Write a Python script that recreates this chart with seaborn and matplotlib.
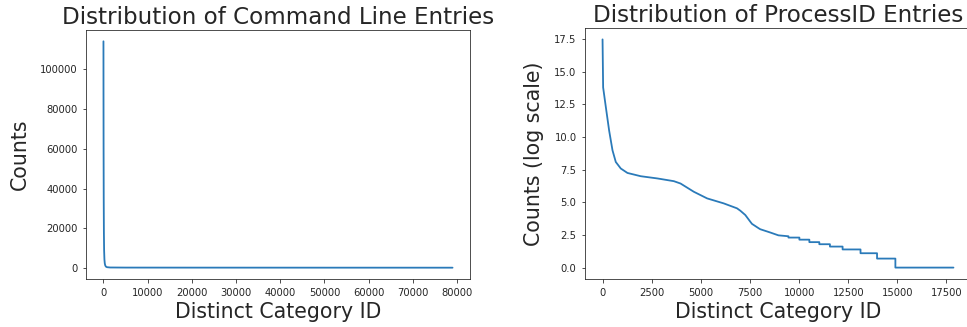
import matplotlib
matplotlib.use("Agg")
import matplotlib.pyplot as plt
import seaborn as sns
import pandas as pd

# Command line entries: counts per distinct category, sorted descending
cmd_ids = [0, 10, 30, 60, 100, 150, 220, 300, 400, 550, 800, 1500, 5000, 20000, 50000, 79000]
cmd_counts = [113800, 90000, 60000, 35000, 18000, 9000, 4500, 2500, 1500, 900, 600, 450, 400, 380, 360, 350]

# ProcessID entries: natural log of counts per distinct category, sorted descending.
# The tail holds small integer counts, so it falls in flat steps.
pid_ids = [0, 30, 167, 335, 507, 674, 928, 1267, 1941, 2788, 3629, 3969, 4643, 5322,
           6163, 6842, 7009, 7263, 7516, 7603, 7937, 8023, 8530, 8951,
           9459, 9459, 10016, 10016, 10523, 10523, 11030, 11030, 11571, 11571,
           12215, 12215, 13127, 13127, 13968, 13968, 14901, 14901, 17856]
pid_logcounts = [17.48, 13.8, 12.3, 10.5, 8.98, 8.09, 7.59, 7.25, 7.0, 6.83, 6.62, 6.44, 5.81, 5.30,
                 4.92, 4.54, 4.36, 4.03, 3.52, 3.35, 3.02, 2.94, 2.69, 2.47,
                 2.40, 2.30, 2.30, 2.14, 2.14, 1.95, 1.95, 1.79, 1.79, 1.61,
                 1.61, 1.39, 1.39, 1.10, 1.10, 0.69, 0.69, 0.0, 0.0]

cmd_df = pd.DataFrame({"id": cmd_ids, "count": cmd_counts})
pid_df = pd.DataFrame({"id": pid_ids, "logcount": pid_logcounts})

sns.set_style("ticks")
plt.rcParams["font.family"] = ["DejaVu Sans"]

W, H = 967, 327
fig = plt.figure(figsize=(W / 72, H / 72), dpi=72)
ax1 = fig.add_axes([86 / W, 1 - 279 / H, (470 - 86) / W, (279 - 30) / H])
ax2 = fig.add_axes([585 / W, 1 - 279 / H, (971 - 585) / W, (279 - 28) / H])

line_color = "#2a7ab9"

sns.lineplot(data=cmd_df, x="id", y="count", ax=ax1, color=line_color,
             linewidth=1.8, estimator=None, sort=False)
sns.lineplot(data=pid_df, x="id", y="logcount", ax=ax2, color=line_color,
             linewidth=1.8, estimator=None, sort=False)

ax1.set_title("Distribution of Command Line Entries", fontsize=23)
ax1.set_xlabel("Distinct Category ID", fontsize=20.5)
ax1.set_ylabel("Counts", fontsize=20.5, labelpad=10)
ax1.set_xticks(range(0, 80001, 10000))
ax1.set_yticks(range(0, 100001, 20000))

ax2.set_title("Distribution of ProcessID Entries", fontsize=23)
ax2.set_xlabel("Distinct Category ID", fontsize=20.5)
ax2.set_ylabel("Counts (log scale)", fontsize=20.5, labelpad=10)
ax2.set_xticks(range(0, 17501, 2500))
ax2.set_yticks([0, 2.5, 5, 7.5, 10, 12.5, 15, 17.5])

for ax in (ax1, ax2):
    ax.tick_params(labelsize=10, length=3.5, pad=5)

fig.savefig("out.png", dpi=72)
